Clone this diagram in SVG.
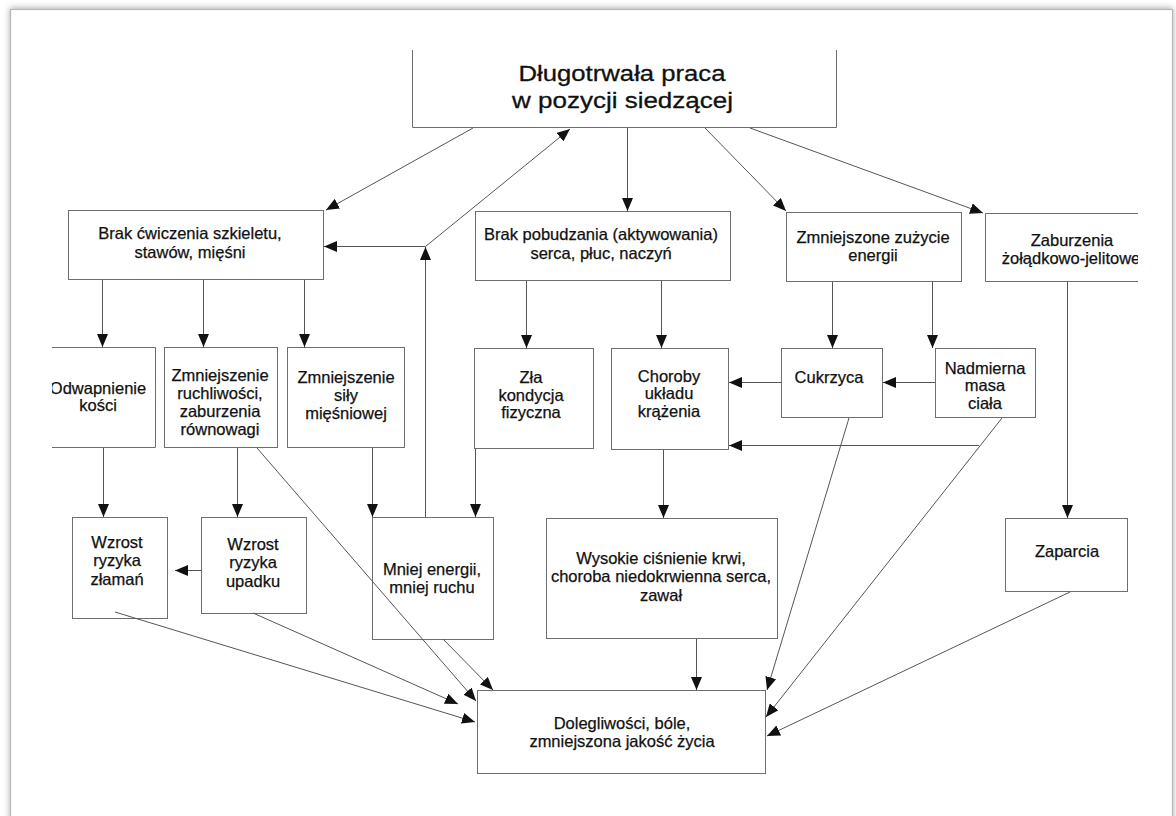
<svg xmlns="http://www.w3.org/2000/svg" width="1176" height="816" viewBox="0 0 1176 816">
  <defs>
    <marker id="ah" markerUnits="userSpaceOnUse" markerWidth="13" markerHeight="11" refX="13" refY="5.5" orient="auto">
      <path d="M0,0 L13,5.5 L0,11 z" fill="#111"/>
    </marker>
    <filter id="sh" x="-5%" y="-5%" width="110%" height="110%">
      <feDropShadow dx="0" dy="-1" stdDeviation="3" flood-color="#888" flood-opacity="0.7"/>
    </filter>
    <clipPath id="clipOdw"><rect x="52" y="340" width="120" height="120"/></clipPath>
    <clipPath id="clipZab"><rect x="980" y="205" width="158" height="90"/></clipPath>
    <style>
      .box { fill: #fff; stroke: #6e6e6e; stroke-width: 1; }
      .t { font-family: "Liberation Sans", Arial, sans-serif; font-size: 16.5px; fill: #111; stroke: #111; stroke-width: 0.25; text-anchor: middle; }
      .tt { font-family: "Liberation Sans", Arial, sans-serif; font-size: 22px; fill: #111; stroke: #111; stroke-width: 0.3; text-anchor: middle; }
      .c { fill: none; stroke: #555; stroke-width: 1; marker-end: url(#ah); }
    </style>
  </defs>

  <rect x="0" y="0" width="1176" height="816" fill="#fff"/>
  <rect x="10.5" y="9.5" width="1162" height="830" fill="#fff" stroke="#b8b8b8" stroke-width="1.2" filter="url(#sh)"/>

  <g id="n-top">
    <path class="box" d="M412.5,50 V127.5 H836.5 V50"/>
    <text class="tt" x="622" y="81" textLength="207" lengthAdjust="spacingAndGlyphs">Długotrwała praca</text>
    <text class="tt" x="622.5" y="108" textLength="221" lengthAdjust="spacingAndGlyphs">w pozycji siedzącej</text>
  </g>

  <g id="n-brak-cwiczenia">
    <rect class="box" x="68.5" y="210.5" width="255" height="69"/>
    <text class="t" x="190" y="239">Brak ćwiczenia szkieletu,</text>
    <text class="t" x="190" y="258">stawów, mięśni</text>
  </g>

  <g id="n-brak-pobudzania">
    <rect class="box" x="475.5" y="211.5" width="255" height="69"/>
    <text class="t" x="601" y="240">Brak pobudzania (aktywowania)</text>
    <text class="t" x="601" y="259">serca, płuc, naczyń</text>
  </g>

  <g id="n-zmniejszone-zuzycie">
    <rect class="box" x="786.5" y="212.5" width="175" height="69"/>
    <text class="t" x="873" y="243">Zmniejszone zużycie</text>
    <text class="t" x="873" y="261">energii</text>
  </g>

  <g id="n-zaburzenia">
    <path class="box" d="M1138,213.5 H985.5 V281.5 H1138"/>
    <g clip-path="url(#clipZab)">
      <text class="t" x="1072" y="246">Zaburzenia</text>
      <text class="t" x="1071" y="264">żołądkowo-jelitowe</text>
    </g>
  </g>

  <g id="n-odwapnienie">
    <path class="box" d="M52,347.5 H155.5 V447.5 H52"/>
    <g clip-path="url(#clipOdw)">
      <text class="t" x="98" y="394">Odwapnienie</text>
      <text class="t" x="98" y="411">kości</text>
    </g>
  </g>

  <g id="n-zmniejszenie-ruchliwosci">
    <rect class="box" x="164.5" y="347.5" width="113" height="100"/>
    <text class="t" x="220" y="381">Zmniejszenie</text>
    <text class="t" x="220" y="399">ruchliwości,</text>
    <text class="t" x="220" y="417">zaburzenia</text>
    <text class="t" x="220" y="435">równowagi</text>
  </g>

  <g id="n-zmniejszenie-sily">
    <rect class="box" x="287.5" y="347.5" width="117" height="100"/>
    <text class="t" x="346" y="383">Zmniejszenie</text>
    <text class="t" x="346" y="401">siły</text>
    <text class="t" x="346" y="419">mięśniowej</text>
  </g>

  <g id="n-zla-kondycja">
    <rect class="box" x="474.5" y="348.5" width="119" height="100"/>
    <text class="t" x="531" y="383">Zła</text>
    <text class="t" x="531" y="401">kondycja</text>
    <text class="t" x="531" y="418">fizyczna</text>
  </g>

  <g id="n-choroby">
    <rect class="box" x="611.5" y="348.5" width="117" height="101"/>
    <text class="t" x="669" y="382">Choroby</text>
    <text class="t" x="669" y="399">układu</text>
    <text class="t" x="669" y="417">krążenia</text>
  </g>

  <g id="n-cukrzyca">
    <rect class="box" x="781.5" y="348.5" width="101" height="69"/>
    <text class="t" x="829" y="383">Cukrzyca</text>
  </g>

  <g id="n-nadmierna">
    <rect class="box" x="935.5" y="348.5" width="100" height="69"/>
    <text class="t" x="985" y="374">Nadmierna</text>
    <text class="t" x="985" y="391">masa</text>
    <text class="t" x="985" y="409">ciała</text>
  </g>

  <g id="n-wzrost-zlaman">
    <rect class="box" x="72.5" y="517.5" width="95" height="101"/>
    <text class="t" x="117" y="548">Wzrost</text>
    <text class="t" x="117" y="566">ryzyka</text>
    <text class="t" x="117" y="585">złamań</text>
  </g>

  <g id="n-wzrost-upadku">
    <rect class="box" x="201.5" y="517.5" width="105" height="96"/>
    <text class="t" x="253" y="550">Wzrost</text>
    <text class="t" x="253" y="568">ryzyka</text>
    <text class="t" x="253" y="587">upadku</text>
  </g>

  <g id="n-mniej-energii">
    <rect class="box" x="372.5" y="517.5" width="121" height="122"/>
    <text class="t" x="432" y="575">Mniej energii,</text>
    <text class="t" x="432" y="593">mniej ruchu</text>
  </g>

  <g id="n-wysokie">
    <rect class="box" x="546.5" y="518.5" width="231" height="120"/>
    <text class="t" x="661" y="564">Wysokie ciśnienie krwi,</text>
    <text class="t" x="661" y="582">choroba niedokrwienna serca,</text>
    <text class="t" x="661" y="601">zawał</text>
  </g>

  <g id="n-zaparcia">
    <rect class="box" x="1005.5" y="518.5" width="122" height="73"/>
    <text class="t" x="1067" y="557">Zaparcia</text>
  </g>

  <g id="n-dolegliwosci">
    <rect class="box" x="477.5" y="690.5" width="288" height="83"/>
    <text class="t" x="622" y="729">Dolegliwości, bóle,</text>
    <text class="t" x="622" y="747">zmniejszona jakość życia</text>
  </g>

  <g id="connectors">
    <path class="c" d="M473,128 L326,210"/>
    <path class="c" d="M627.5,128 V211"/>
    <path class="c" d="M705,128 L786,211"/>
    <path class="c" d="M750,128 L983,213"/>
    <path class="c" d="M102.5,280 V347"/>
    <path class="c" d="M203.5,280 V347"/>
    <path class="c" d="M304.5,280 V347"/>
    <path class="c" d="M526.5,281 V348"/>
    <path class="c" d="M661.5,281 V348"/>
    <path class="c" d="M832.5,282 V348"/>
    <path class="c" d="M932.5,282 V348"/>
    <path class="c" d="M1067.5,282 V518"/>
    <path class="c" d="M935,382.5 H883"/>
    <path class="c" d="M781,382.5 H729"/>
    <path class="c" d="M979,445.5 H729"/>
    <path class="c" d="M103.5,448 V517"/>
    <path class="c" d="M237.5,448 V517"/>
    <path class="c" d="M372.5,448 V517"/>
    <path class="c" d="M475.5,449 V517"/>
    <path class="c" d="M201,570.5 H175"/>
    <path class="c" d="M663.5,450 V518"/>
    <path class="c" d="M425.5,517 V247"/>
    <path class="c" d="M425.5,246.5 H324"/>
    <path class="c" d="M425.5,246.5 L570,129"/>
    <path class="c" d="M115,612 L475,722"/>
    <path class="c" d="M253,613 L458,704"/>
    <path class="c" d="M257,448 L476,701"/>
    <path class="c" d="M443,639 L493,690"/>
    <path class="c" d="M696.5,639 V690"/>
    <path class="c" d="M849,418 L767,690"/>
    <path class="c" d="M1002,418 L766,717"/>
    <path class="c" d="M1070,592 L767,736"/>
  </g>
</svg>
